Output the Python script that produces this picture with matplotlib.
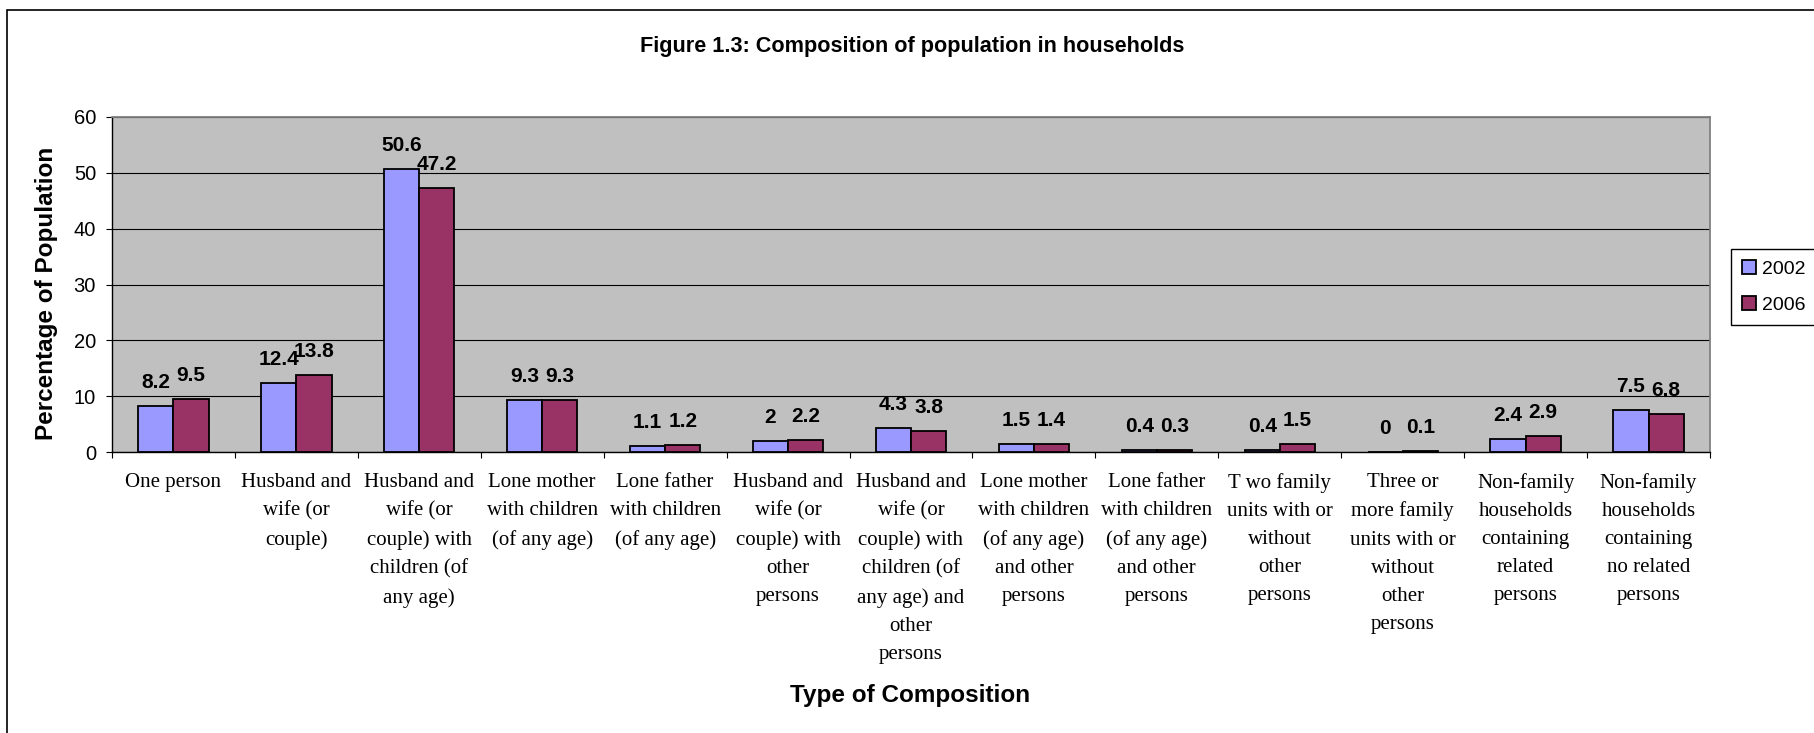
import matplotlib
matplotlib.use("Agg")
import matplotlib.pyplot as plt
import numpy as np
from matplotlib.patches import Rectangle

categories = [
    "One person",
    "Husband and\nwife (or\ncouple)",
    "Husband and\nwife (or\ncouple) with\nchildren (of\nany age)",
    "Lone mother\nwith children\n(of any age)",
    "Lone father\nwith children\n(of any age)",
    "Husband and\nwife (or\ncouple) with\nother\npersons",
    "Husband and\nwife (or\ncouple) with\nchildren (of\nany age) and\nother\npersons",
    "Lone mother\nwith children\n(of any age)\nand other\npersons",
    "Lone father\nwith children\n(of any age)\nand other\npersons",
    "T wo family\nunits with or\nwithout\nother\npersons",
    "Three or\nmore family\nunits with or\nwithout\nother\npersons",
    "Non-family\nhouseholds\ncontaining\nrelated\npersons",
    "Non-family\nhouseholds\ncontaining\nno related\npersons",
]
pop_2002 = [8.2, 12.4, 50.6, 9.3, 1.1, 2, 4.3, 1.5, 0.4, 0.4, 0, 2.4, 7.5]
pop_2006 = [9.5, 13.8, 47.2, 9.3, 1.2, 2.2, 3.8, 1.4, 0.3, 1.5, 0.1, 2.9, 6.8]
years = ["2002", "2006"]
y_ticks = [0, 10, 20, 30, 40, 50, 60]

W, H = 1815, 733
SANS = "Liberation Sans"
SERIF = "Liberation Serif"

fig = plt.figure(figsize=(W / 100, H / 100), dpi=100)
ax = fig.add_axes([112 / W, 1 - 452 / H, (1710 - 112) / W, (452 - 117) / H])
ax.set_facecolor("#C0C0C0")

x = np.arange(len(categories))
bw = 0.2857
b1 = ax.bar(x - bw / 2, pop_2002, bw, color="#9999FF", edgecolor="black", linewidth=1.3, label=years[0], zorder=3)
b2 = ax.bar(x + bw / 2, pop_2006, bw, color="#993366", edgecolor="black", linewidth=1.3, label=years[1], zorder=3)

for bars, vals in ((b1, pop_2002), (b2, pop_2006)):
    for rect, v in zip(bars, vals):
        ax.annotate(f"{v:g}", (rect.get_x() + rect.get_width() / 2, v),
                    xytext=(0, 13), textcoords="offset points",
                    ha="center", va="baseline", fontsize=15,
                    fontweight="bold", family=SANS, zorder=4)

ax.set_xlim(-0.5, len(categories) - 0.5)
ax.set_ylim(0, 60)
ax.set_yticks(y_ticks)
ax.yaxis.grid(True, color="black", linewidth=0.8, zorder=1)
ax.tick_params(axis="y", length=4.5, width=0.8, pad=7, labelsize=14.5)
for lab in ax.get_yticklabels():
    lab.set_family(SANS)

ax.set_xticks(x)
ax.set_xticklabels(categories, family=SERIF, fontsize=15, linespacing=1.65)
ax.tick_params(axis="x", which="major", length=0, pad=15)
ax.set_xticks(np.arange(-0.5, len(categories)), minor=True)
ax.tick_params(axis="x", which="minor", length=4.5, width=0.8)

for side in ("top", "right"):
    ax.spines[side].set_color("#808080")
    ax.spines[side].set_linewidth(1.3)
for side in ("left", "bottom"):
    ax.spines[side].set_color("black")
    ax.spines[side].set_linewidth(1.0)

fig.text(912 / W, 1 - 52 / H, "Figure 1.3: Composition of population in households",
         ha="center", va="baseline", fontsize=15.6, fontweight="bold", family=SANS)
fig.text(910 / W, 1 - 702 / H, "Type of Composition",
         ha="center", va="baseline", fontsize=17.5, fontweight="bold", family=SANS)
fig.text(47 / W, 1 - 293 / H, "Percentage of Population", rotation=90,
         ha="center", va="center", fontsize=17.5, fontweight="bold", family=SANS)

fig.legend(handles=[b1, b2], labels=years, loc="upper left",
           bbox_to_anchor=(1731 / W, 1 - 249 / H), borderaxespad=0,
           fancybox=False, edgecolor="black", framealpha=1,
           prop={"family": SANS, "size": 14}, handlelength=0.75,
           handleheight=0.75, handletextpad=0.3, labelspacing=0.95,
           borderpad=0.55)

# outer chart frame
fig.patches.append(Rectangle((7 / W, -0.1), 1.2, 1 - 10 / H + 0.1,
                             transform=fig.transFigure, fill=False,
                             edgecolor="black", linewidth=1.2))

fig.savefig("out.png", dpi=100)
